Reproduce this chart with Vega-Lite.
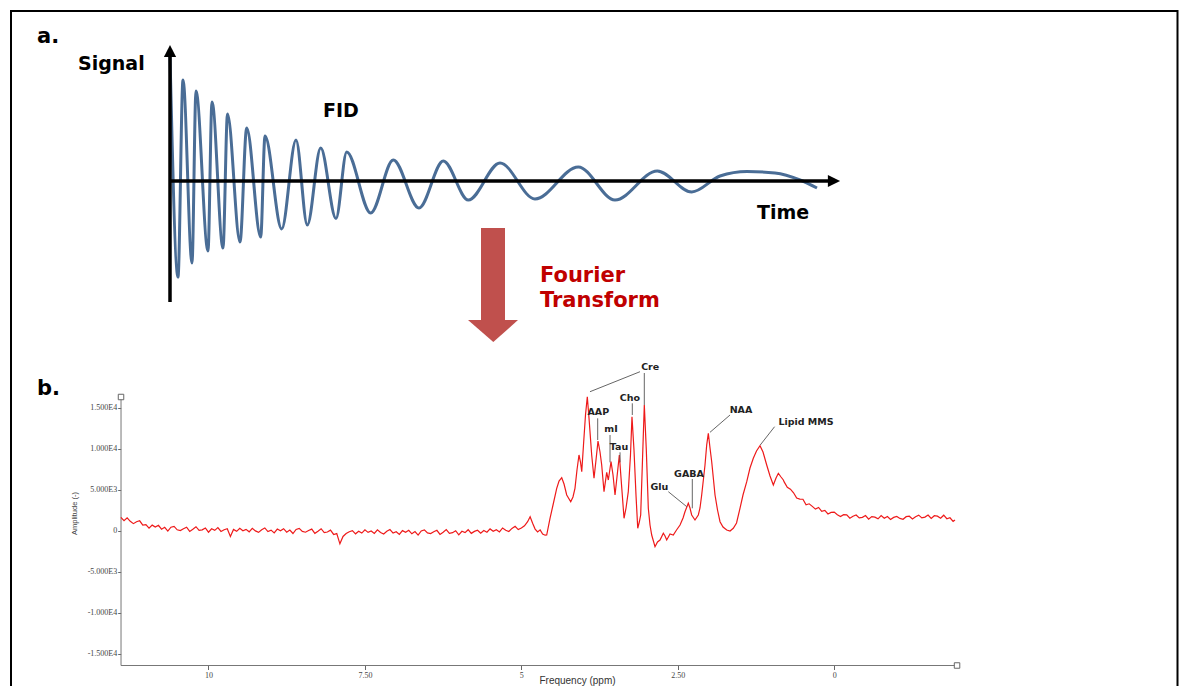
{
  "$schema": "https://vega.github.io/schema/vega-lite/v6.json",
  "width": 1183,
  "height": 686,
  "autosize": {"type": "none"},
  "padding": 0,
  "background": "#ffffff",
  "config": {"view": {"stroke": null}, "axis": {"grid": false}},
  "datasets": {
    "border": [{"t": -31.8, "s": 1.70, "t2": 201.5, "s2": -5.19}],
    "aAxes": [
      {"t": 0, "s": -1.21, "t2": 0, "s2": 1.24},
      {"t": 0, "s": 0, "t2": 132.4, "s2": 0}
    ],
    "arrowUp": [{"t": 0, "s": 1.30}],
    "arrowRight": [{"t": 132.8, "s": 0}],
    "fid": [
      {"t": 0, "s": 1.25}, {"t": 1.6, "s": -0.96}, {"t": 2.6, "s": 1.01}, {"t": 4.4, "s": -0.82},
      {"t": 5.2, "s": 0.90}, {"t": 7.6, "s": -0.70}, {"t": 8.4, "s": 0.79}, {"t": 10.6, "s": -0.67},
      {"t": 11.5, "s": 0.67}, {"t": 14, "s": -0.61}, {"t": 15.34, "s": 0.53}, {"t": 18.14, "s": -0.56},
      {"t": 19, "s": 0.45}, {"t": 22.34, "s": -0.48}, {"t": 25.2, "s": 0.41}, {"t": 27.46, "s": -0.44},
      {"t": 30.14, "s": 0.33}, {"t": 33.2, "s": -0.375}, {"t": 35.34, "s": 0.29}, {"t": 40.14, "s": -0.32},
      {"t": 44.66, "s": 0.21}, {"t": 49.8, "s": -0.27}, {"t": 54.66, "s": 0.20}, {"t": 59.66, "s": -0.19},
      {"t": 66, "s": 0.18}, {"t": 73, "s": -0.18}, {"t": 81.66, "s": 0.14}, {"t": 89, "s": -0.19},
      {"t": 97.46, "s": 0.10}, {"t": 104.34, "s": -0.11}, {"t": 110, "s": 0.05}, {"t": 115.4, "s": 0.095},
      {"t": 121, "s": 0.08}, {"t": 126, "s": 0.01}, {"t": 129.4, "s": -0.07}
    ],
    "shaft": [{"t": 62.2, "s": -0.47, "t2": 67, "s2": -1.40}],
    "head": [
      {"t": 59.6, "s": -1.39, "s2": -1.39},
      {"t": 64.66, "s": -1.39, "s2": -1.61},
      {"t": 69.6, "s": -1.39, "s2": -1.39}
    ],
    "panelLabels": [
      {"t": -26.6, "s": 1.377, "label": "a."},
      {"t": -26.6, "s": -2.14, "label": "b."}
    ],
    "aLabels": [
      {"t": -18.4, "s": 1.11, "label": "Signal"},
      {"t": 30.6, "s": 0.643, "label": "FID"},
      {"t": 117.4, "s": -0.38, "label": "Time"}
    ],
    "ftLabels": [
      {"t": 74, "s": -1.007, "label": "Fourier"},
      {"t": 74, "s": -1.257, "label": "Transform"}
    ],
    "bAxisLines": [
      {"ppm": 11.398, "amp": -16439, "ppm2": 11.398, "amp2": 16305},
      {"ppm": 11.398, "amp": -16439, "ppm2": -1.93, "amp2": -16439}
    ],
    "corners": [
      {"ppm": 11.398, "amp": 16305},
      {"ppm": -1.963, "amp": -16439}
    ],
    "spectrum": [
      {"ppm": 11.40, "amp": 1620}, {"ppm": 11.35, "amp": 1220}, {"ppm": 11.30, "amp": 1560}, {"ppm": 11.25, "amp": 1140},
      {"ppm": 11.20, "amp": 860}, {"ppm": 11.15, "amp": 1090}, {"ppm": 11.10, "amp": 1210}, {"ppm": 11.05, "amp": 670},
      {"ppm": 11.00, "amp": 740}, {"ppm": 10.95, "amp": 310}, {"ppm": 10.90, "amp": 680}, {"ppm": 10.85, "amp": 440},
      {"ppm": 10.80, "amp": 655}, {"ppm": 10.75, "amp": 190}, {"ppm": 10.70, "amp": 420}, {"ppm": 10.65, "amp": -40},
      {"ppm": 10.60, "amp": 425}, {"ppm": 10.55, "amp": 520}, {"ppm": 10.50, "amp": 110}, {"ppm": 10.45, "amp": 20},
      {"ppm": 10.40, "amp": 245}, {"ppm": 10.35, "amp": 420}, {"ppm": 10.30, "amp": -90}, {"ppm": 10.25, "amp": 170},
      {"ppm": 10.20, "amp": 485}, {"ppm": 10.15, "amp": 30}, {"ppm": 10.10, "amp": 100}, {"ppm": 10.05, "amp": 330},
      {"ppm": 10.00, "amp": -185}, {"ppm": 9.95, "amp": 230}, {"ppm": 9.90, "amp": 40}, {"ppm": 9.85, "amp": 370},
      {"ppm": 9.80, "amp": -95}, {"ppm": 9.75, "amp": 120}, {"ppm": 9.70, "amp": 240}, {"ppm": 9.65, "amp": -700},
      {"ppm": 9.60, "amp": 155}, {"ppm": 9.55, "amp": -80}, {"ppm": 9.50, "amp": 300}, {"ppm": 9.45, "amp": 0},
      {"ppm": 9.40, "amp": 165}, {"ppm": 9.35, "amp": -137}, {"ppm": 9.30, "amp": 300}, {"ppm": 9.25, "amp": -22},
      {"ppm": 9.20, "amp": -205}, {"ppm": 9.15, "amp": 123}, {"ppm": 9.10, "amp": 340}, {"ppm": 9.05, "amp": -102},
      {"ppm": 9.00, "amp": 65}, {"ppm": 8.95, "amp": -267}, {"ppm": 8.90, "amp": 200}, {"ppm": 8.85, "amp": -2},
      {"ppm": 8.80, "amp": 245}, {"ppm": 8.75, "amp": -187}, {"ppm": 8.70, "amp": 80}, {"ppm": 8.65, "amp": -342},
      {"ppm": 8.60, "amp": 155}, {"ppm": 8.55, "amp": 283}, {"ppm": 8.50, "amp": -90}, {"ppm": 8.45, "amp": -185},
      {"ppm": 8.40, "amp": 30}, {"ppm": 8.35, "amp": 195}, {"ppm": 8.30, "amp": -320}, {"ppm": 8.25, "amp": -65},
      {"ppm": 8.20, "amp": 240}, {"ppm": 8.15, "amp": -225}, {"ppm": 8.10, "amp": -160}, {"ppm": 8.05, "amp": 65},
      {"ppm": 8.00, "amp": -460}, {"ppm": 7.95, "amp": -350}, {"ppm": 7.90, "amp": -1600}, {"ppm": 7.85, "amp": -700},
      {"ppm": 7.80, "amp": -340}, {"ppm": 7.75, "amp": -120}, {"ppm": 7.70, "amp": 10}, {"ppm": 7.65, "amp": -380},
      {"ppm": 7.60, "amp": -60}, {"ppm": 7.55, "amp": -290}, {"ppm": 7.50, "amp": 100}, {"ppm": 7.45, "amp": -202},
      {"ppm": 7.40, "amp": -33}, {"ppm": 7.35, "amp": -335}, {"ppm": 7.30, "amp": 103}, {"ppm": 7.25, "amp": -218},
      {"ppm": 7.20, "amp": -400}, {"ppm": 7.15, "amp": -72}, {"ppm": 7.10, "amp": 147}, {"ppm": 7.05, "amp": -295},
      {"ppm": 7.00, "amp": -127}, {"ppm": 6.95, "amp": -458}, {"ppm": 6.90, "amp": 10}, {"ppm": 6.85, "amp": -192},
      {"ppm": 6.80, "amp": 57}, {"ppm": 6.75, "amp": -375}, {"ppm": 6.70, "amp": -107}, {"ppm": 6.65, "amp": -528},
      {"ppm": 6.60, "amp": -30}, {"ppm": 6.55, "amp": 98}, {"ppm": 6.50, "amp": -273}, {"ppm": 6.45, "amp": -355},
      {"ppm": 6.40, "amp": -127}, {"ppm": 6.35, "amp": 52}, {"ppm": 6.30, "amp": -450}, {"ppm": 6.25, "amp": -182},
      {"ppm": 6.20, "amp": 137}, {"ppm": 6.15, "amp": -315}, {"ppm": 6.10, "amp": -237}, {"ppm": 6.05, "amp": 2},
      {"ppm": 6.00, "amp": -510}, {"ppm": 5.95, "amp": -73}, {"ppm": 5.90, "amp": -237}, {"ppm": 5.85, "amp": 120},
      {"ppm": 5.80, "amp": -323}, {"ppm": 5.75, "amp": -87}, {"ppm": 5.70, "amp": 60}, {"ppm": 5.65, "amp": -313},
      {"ppm": 5.60, "amp": 23}, {"ppm": 5.55, "amp": -190}, {"ppm": 5.50, "amp": 217}, {"ppm": 5.45, "amp": -67},
      {"ppm": 5.40, "amp": 120}, {"ppm": 5.35, "amp": -143}, {"ppm": 5.30, "amp": 335}, {"ppm": 5.25, "amp": 52},
      {"ppm": 5.20, "amp": -90}, {"ppm": 5.15, "amp": 277}, {"ppm": 5.10, "amp": 535}, {"ppm": 5.05, "amp": 132},
      {"ppm": 5.00, "amp": 340}, {"ppm": 4.95, "amp": 600}, {"ppm": 4.90, "amp": 1100}, {"ppm": 4.86, "amp": 1700},
      {"ppm": 4.82, "amp": 900}, {"ppm": 4.78, "amp": 200}, {"ppm": 4.74, "amp": -150}, {"ppm": 4.70, "amp": 100},
      {"ppm": 4.66, "amp": -400}, {"ppm": 4.62, "amp": -550},
      {"ppm": 4.595, "amp": -524}, {"ppm": 4.542, "amp": 1512}, {"ppm": 4.494, "amp": 3134}, {"ppm": 4.435, "amp": 5171},
      {"ppm": 4.398, "amp": 6061}, {"ppm": 4.355, "amp": 6463}, {"ppm": 4.318, "amp": 5695}, {"ppm": 4.275, "amp": 4354},
      {"ppm": 4.211, "amp": 3537}, {"ppm": 4.175, "amp": 4110}, {"ppm": 4.143, "amp": 5171}, {"ppm": 4.111, "amp": 7402},
      {"ppm": 4.079, "amp": 9232}, {"ppm": 4.055, "amp": 8378}, {"ppm": 4.035, "amp": 7195}, {"ppm": 4.007, "amp": 10451},
      {"ppm": 3.975, "amp": 14110}, {"ppm": 3.946, "amp": 16341}, {"ppm": 3.919, "amp": 13744}, {"ppm": 3.876, "amp": 9232},
      {"ppm": 3.839, "amp": 6390}, {"ppm": 3.807, "amp": 8622}, {"ppm": 3.775, "amp": 10939}, {"ppm": 3.743, "amp": 9597},
      {"ppm": 3.716, "amp": 8012}, {"ppm": 3.679, "amp": 4756}, {"ppm": 3.636, "amp": 7122}, {"ppm": 3.610, "amp": 6183},
      {"ppm": 3.567, "amp": 8415}, {"ppm": 3.535, "amp": 6793}, {"ppm": 3.503, "amp": 4354}, {"ppm": 3.463, "amp": 7158},
      {"ppm": 3.434, "amp": 9232}, {"ppm": 3.399, "amp": 5573}, {"ppm": 3.359, "amp": 1512}, {"ppm": 3.327, "amp": 2768},
      {"ppm": 3.291, "amp": 4756}, {"ppm": 3.256, "amp": 9232}, {"ppm": 3.232, "amp": 13902}, {"ppm": 3.200, "amp": 9841},
      {"ppm": 3.168, "amp": 4354}, {"ppm": 3.140, "amp": 293}, {"ppm": 3.115, "amp": 1061}, {"ppm": 3.093, "amp": 1915},
      {"ppm": 3.064, "amp": 8622}, {"ppm": 3.035, "amp": 15329}, {"ppm": 3.003, "amp": 9841}, {"ppm": 2.971, "amp": 2732},
      {"ppm": 2.944, "amp": 695}, {"ppm": 2.917, "amp": -524}, {"ppm": 2.864, "amp": -1951}, {"ppm": 2.824, "amp": -1378},
      {"ppm": 2.784, "amp": -1134}, {"ppm": 2.731, "amp": -317}, {"ppm": 2.704, "amp": -646}, {"ppm": 2.677, "amp": -1134},
      {"ppm": 2.624, "amp": -402}, {"ppm": 2.572, "amp": -524}, {"ppm": 2.520, "amp": 85}, {"ppm": 2.464, "amp": 695},
      {"ppm": 2.416, "amp": 1549}, {"ppm": 2.385, "amp": 2317}, {"ppm": 2.332, "amp": 3341}, {"ppm": 2.305, "amp": 2768},
      {"ppm": 2.278, "amp": 1915}, {"ppm": 2.225, "amp": 1305}, {"ppm": 2.172, "amp": 1915}, {"ppm": 2.145, "amp": 2768},
      {"ppm": 2.118, "amp": 4354}, {"ppm": 2.065, "amp": 8012}, {"ppm": 2.038, "amp": 10451}, {"ppm": 2.012, "amp": 11878},
      {"ppm": 1.985, "amp": 10085}, {"ppm": 1.958, "amp": 8415}, {"ppm": 1.905, "amp": 4354}, {"ppm": 1.865, "amp": 2524},
      {"ppm": 1.825, "amp": 1098}, {"ppm": 1.777, "amp": 451}, {"ppm": 1.718, "amp": 85}, {"ppm": 1.665, "amp": -37},
      {"ppm": 1.613, "amp": 293}, {"ppm": 1.561, "amp": 939}, {"ppm": 1.506, "amp": 2732}, {"ppm": 1.458, "amp": 4354},
      {"ppm": 1.398, "amp": 5976}, {"ppm": 1.346, "amp": 7646}, {"ppm": 1.293, "amp": 8829}, {"ppm": 1.242, "amp": 9719},
      {"ppm": 1.186, "amp": 10366}, {"ppm": 1.138, "amp": 9597}, {"ppm": 1.079, "amp": 8012}, {"ppm": 1.026, "amp": 6671},
      {"ppm": 0.973, "amp": 5573}, {"ppm": 0.930, "amp": 6427}, {"ppm": 0.893, "amp": 7000}, {"ppm": 0.850, "amp": 6549},
      {"ppm": 0.813, "amp": 6183},
      {"ppm": 0.80, "amp": 5950}, {"ppm": 0.75, "amp": 5300}, {"ppm": 0.70, "amp": 5060}, {"ppm": 0.65, "amp": 4630},
      {"ppm": 0.60, "amp": 3980}, {"ppm": 0.55, "amp": 3860}, {"ppm": 0.50, "amp": 3840}, {"ppm": 0.45, "amp": 3150},
      {"ppm": 0.40, "amp": 3280}, {"ppm": 0.35, "amp": 2970}, {"ppm": 0.30, "amp": 2630}, {"ppm": 0.25, "amp": 2840},
      {"ppm": 0.20, "amp": 2360}, {"ppm": 0.15, "amp": 2480}, {"ppm": 0.10, "amp": 2040}, {"ppm": 0.05, "amp": 2230},
      {"ppm": 0.00, "amp": 2270}, {"ppm": -0.05, "amp": 1940}, {"ppm": -0.10, "amp": 1730}, {"ppm": -0.15, "amp": 1960},
      {"ppm": -0.20, "amp": 1930}, {"ppm": -0.25, "amp": 1520}, {"ppm": -0.30, "amp": 1760}, {"ppm": -0.35, "amp": 1920},
      {"ppm": -0.40, "amp": 1560}, {"ppm": -0.45, "amp": 1630}, {"ppm": -0.50, "amp": 1850}, {"ppm": -0.55, "amp": 1400},
      {"ppm": -0.60, "amp": 1720}, {"ppm": -0.65, "amp": 1650}, {"ppm": -0.70, "amp": 1450}, {"ppm": -0.75, "amp": 1850},
      {"ppm": -0.80, "amp": 1510}, {"ppm": -0.85, "amp": 1720}, {"ppm": -0.90, "amp": 1370}, {"ppm": -0.95, "amp": 1620},
      {"ppm": -1.00, "amp": 1730}, {"ppm": -1.05, "amp": 1500}, {"ppm": -1.10, "amp": 1390}, {"ppm": -1.15, "amp": 1710},
      {"ppm": -1.20, "amp": 1770}, {"ppm": -1.25, "amp": 1440}, {"ppm": -1.30, "amp": 1710}, {"ppm": -1.35, "amp": 1900},
      {"ppm": -1.40, "amp": 1560}, {"ppm": -1.45, "amp": 1660}, {"ppm": -1.50, "amp": 1910}, {"ppm": -1.55, "amp": 1490},
      {"ppm": -1.60, "amp": 1830}, {"ppm": -1.65, "amp": 1770}, {"ppm": -1.70, "amp": 1530}, {"ppm": -1.75, "amp": 1890},
      {"ppm": -1.80, "amp": 1460}, {"ppm": -1.85, "amp": 1580}, {"ppm": -1.90, "amp": 1140}, {"ppm": -1.93, "amp": 1300}
    ],
    "leaders": [
      {"ppm": 3.903, "amp": 16951, "ppm2": 3.104, "amp2": 19390},
      {"ppm": 3.035, "amp": 19231, "ppm2": 3.035, "amp2": 15329},
      {"ppm": 3.780, "amp": 13707, "ppm2": 3.780, "amp2": 11061},
      {"ppm": 3.227, "amp": 15537, "ppm2": 3.227, "amp2": 14110},
      {"ppm": 3.583, "amp": 11671, "ppm2": 3.583, "amp2": 8341},
      {"ppm": 3.423, "amp": 9561, "ppm2": 3.423, "amp2": 8341},
      {"ppm": 2.651, "amp": 4756, "ppm2": 2.357, "amp2": 2927},
      {"ppm": 2.268, "amp": 6305, "ppm2": 2.268, "amp2": 2732},
      {"ppm": 1.665, "amp": 14110, "ppm2": 1.985, "amp2": 12000},
      {"ppm": 0.953, "amp": 12683, "ppm2": 1.182, "amp2": 10451}
    ],
    "peakLabels": [
      {"ppm": 2.941, "amp": 19927, "label": "Cre"},
      {"ppm": 3.770, "amp": 14512, "label": "AAP"},
      {"ppm": 3.264, "amp": 16219, "label": "Cho"},
      {"ppm": 3.567, "amp": 12402, "label": "mI"},
      {"ppm": 3.439, "amp": 10244, "label": "Tau"},
      {"ppm": 2.795, "amp": 5366, "label": "Glu"},
      {"ppm": 2.321, "amp": 6878, "label": "GABA"},
      {"ppm": 1.490, "amp": 14719, "label": "NAA"},
      {"ppm": 0.451, "amp": 13293, "label": "Lipid MMS"}
    ]
  },
  "layer": [
    {
      "encoding": {
        "x": {"field": "t", "type": "quantitative", "scale": {"domain": [-34, 202.6], "nice": false, "zero": false}, "axis": null},
        "y": {"field": "s", "type": "quantitative", "scale": {"domain": [-5.05, 1.81], "nice": false, "zero": false}, "axis": null}
      },
      "layer": [
        {"data": {"name": "border"}, "mark": {"type": "rect", "filled": false, "color": "#000000", "strokeWidth": 2}, "encoding": {"x2": {"field": "t2"}, "y2": {"field": "s2"}}},
        {"data": {"name": "fid"}, "mark": {"type": "line", "color": "#4a6d96", "strokeWidth": 3, "interpolate": "monotone"}, "encoding": {}},
        {"data": {"name": "aAxes"}, "mark": {"type": "rule", "color": "#000000", "strokeWidth": 3.5}, "encoding": {"x2": {"field": "t2"}, "y2": {"field": "s2"}}},
        {"data": {"name": "arrowUp"}, "mark": {"type": "point", "shape": "M0,-1L1,1L-1,1Z", "filled": true, "color": "#000000", "size": 150, "opacity": 1, "strokeWidth": 0}, "encoding": {}},
        {"data": {"name": "arrowRight"}, "mark": {"type": "point", "shape": "M1,0L-1,1L-1,-1Z", "filled": true, "color": "#000000", "size": 150, "opacity": 1, "strokeWidth": 0}, "encoding": {}},
        {"data": {"name": "shaft"}, "mark": {"type": "rect", "color": "#c0504d"}, "encoding": {"x2": {"field": "t2"}, "y2": {"field": "s2"}}},
        {"data": {"name": "head"}, "mark": {"type": "area", "color": "#c0504d", "opacity": 1}, "encoding": {"y2": {"field": "s2"}}},
        {"data": {"name": "panelLabels"}, "mark": {"type": "text", "font": "DejaVu Sans", "fontWeight": "bold", "fontSize": 21, "align": "left", "baseline": "alphabetic", "color": "#000000"}, "encoding": {"text": {"field": "label"}}},
        {"data": {"name": "aLabels"}, "mark": {"type": "text", "font": "DejaVu Sans", "fontWeight": "bold", "fontSize": 19, "align": "left", "baseline": "alphabetic", "color": "#000000"}, "encoding": {"text": {"field": "label"}}},
        {"data": {"name": "ftLabels"}, "mark": {"type": "text", "font": "DejaVu Sans", "fontWeight": "bold", "fontSize": 21, "align": "left", "baseline": "alphabetic", "color": "#c00000"}, "encoding": {"text": {"field": "label"}}}
      ]
    },
    {
      "encoding": {
        "x": {
          "field": "ppm", "type": "quantitative",
          "scale": {"domain": [-5.574, 13.332], "reverse": true, "nice": false, "zero": false},
          "axis": {
            "orient": "bottom", "offset": -20.5, "values": [10, 7.5, 5, 2.5, 0], "domain": false, "grid": false,
            "tickSize": 4, "tickColor": "#666666", "labelFont": "Liberation Serif", "labelFontSize": 8, "labelColor": "#444444",
            "labelPadding": 2, "labelFlush": false, "labelOverlap": false,
            "labelExpr": "datum.value == 7.5 ? '7.50' : datum.value == 2.5 ? '2.50' : format(datum.value, 'd')",
            "title": "Frequency (ppm)", "titleFont": "Liberation Sans", "titleFontSize": 10, "titleFontWeight": "normal",
            "titleColor": "#333333", "titleX": 577, "titleY": 19.5, "titleBaseline": "bottom", "titleAlign": "center"
          }
        },
        "y": {
          "field": "amp", "type": "quantitative",
          "scale": {"domain": [-18939, 64720], "nice": false, "zero": false},
          "axis": {
            "orient": "left", "offset": -120.7, "values": [-15000, -10000, -5000, 0, 5000, 10000, 15000], "domain": false, "grid": false,
            "tickSize": 3, "tickColor": "#666666", "labelFont": "Liberation Serif", "labelFontSize": 8, "labelColor": "#444444",
            "labelPadding": 1, "labelFlush": false, "labelOverlap": false,
            "labelExpr": "datum.value == 0 ? '0' : (datum.value < 0 ? '-' : '') + (abs(datum.value) >= 10000 ? format(abs(datum.value) / 10000, '.3f') + 'E4' : format(abs(datum.value) / 1000, '.3f') + 'E3')",
            "title": "Amplitude (-)", "titleFont": "Liberation Sans", "titleFontSize": 7.5, "titleFontWeight": "normal",
            "titleColor": "#444444", "titleX": -46.7, "titleY": 513, "titleAngle": 270, "titleAlign": "center", "titleBaseline": "middle"
          }
        }
      },
      "layer": [
        {"data": {"name": "bAxisLines"}, "mark": {"type": "rule", "color": "#777777", "strokeWidth": 1}, "encoding": {"x2": {"field": "ppm2"}, "y2": {"field": "amp2"}}},
        {"data": {"name": "corners"}, "mark": {"type": "point", "shape": "square", "size": 30, "filled": false, "fill": "#ffffff", "color": "#666666", "strokeWidth": 1, "opacity": 1}, "encoding": {}},
        {"data": {"name": "spectrum"}, "mark": {"type": "line", "color": "#ee1a1a", "strokeWidth": 1.2}, "encoding": {}},
        {"data": {"name": "leaders"}, "mark": {"type": "rule", "color": "#555555", "strokeWidth": 0.9}, "encoding": {"x2": {"field": "ppm2"}, "y2": {"field": "amp2"}}},
        {"data": {"name": "peakLabels"}, "mark": {"type": "text", "font": "DejaVu Sans", "fontWeight": "bold", "fontSize": 9.5, "align": "center", "baseline": "middle", "color": "#222222"}, "encoding": {"text": {"field": "label"}}}
      ]
    }
  ],
  "resolve": {"scale": {"x": "independent", "y": "independent"}}
}
